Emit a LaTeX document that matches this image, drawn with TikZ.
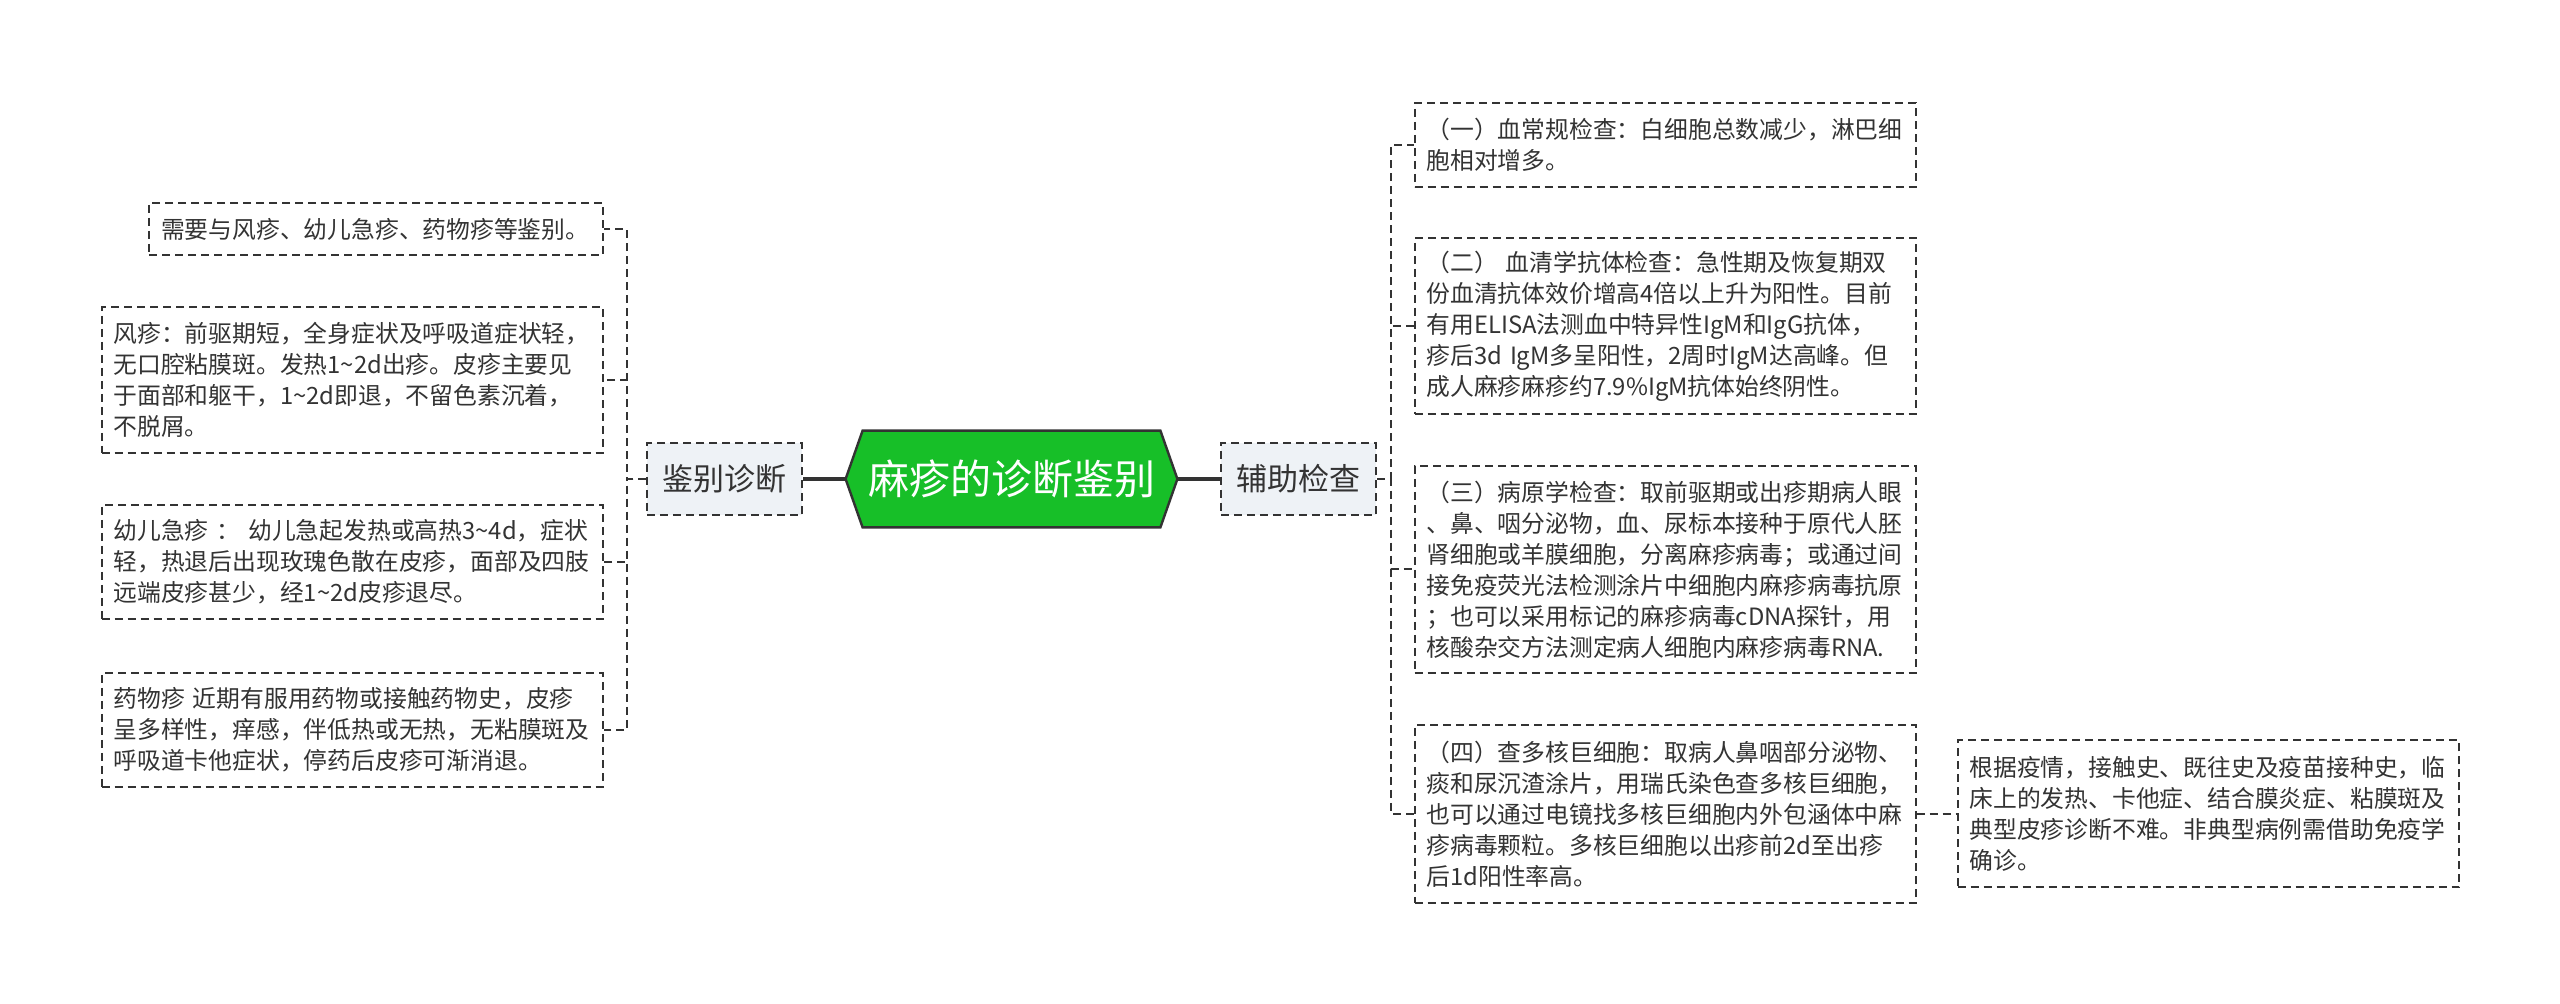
\documentclass[tikz,border=0pt]{standalone}
\usepackage{fontspec}
\setmainfont{Noto Sans CJK SC}
\usetikzlibrary{backgrounds}
\definecolor{ink}{HTML}{333333}
\definecolor{leaf}{HTML}{17BF28}
\definecolor{pale}{HTML}{EEF2F6}
\tikzset{
  box/.style={draw=ink, line width=1pt, dash pattern=on 4pt off 2.5pt, text=ink,
    inner xsep=6pt, inner ysep=0pt, align=left,
    font=\fontsize{11.9pt}{15.5pt}\selectfont},
  wide/.style={box, text width=238.5pt},
  sub/.style={draw=ink, fill=pale, line width=1pt, dash pattern=on 4pt off 2.5pt,
    text=ink, minimum width=77.5pt, minimum height=36pt, inner sep=0pt,
    font=\fontsize{15.5pt}{18pt}\selectfont},
  root/.style={text=white, minimum width=165.5pt, minimum height=48pt, inner sep=0pt,
    font=\fontsize{20.5pt}{24pt}\selectfont},
  hexa/.style={draw=ink, fill=leaf, line width=1.2pt, line join=miter},
  link/.style={draw=ink, line width=1pt, dash pattern=on 4pt off 2.5pt},
  trunk/.style={draw=ink, line width=1.6pt}
}
\begin{document}
\begin{tikzpicture}[x=0.5pt, y=-0.5pt]
\useasboundingbox (0,0) rectangle (2560,1004);

% centre and the two branches
\node[root] (root) at (1011.5,479) {麻疹的诊断鉴别};
\begin{scope}[on background layer]
\fill[white] (0,0) rectangle (2560,1004);
\path[hexa] (root.west) -- ([xshift=8.5pt]root.north west) -- ([xshift=-8.5pt]root.north east)
  -- (root.east) -- ([xshift=-8.5pt]root.south east) -- ([xshift=8.5pt]root.south west) -- cycle;
\end{scope}
\node[sub] (jb) at (724.5,479) {鉴别诊断};
\node[sub] (fz) at (1298.5,479) {辅助检查};
\draw[trunk] (root.west) -- (jb.east);
\draw[trunk] (root.east) -- (fz.west);

% left leaves
\node[box, text width=215pt, minimum height=26pt] (l1) at (376,229) {需要与风疹、幼儿急疹、药物疹等鉴别。};
\node[wide, minimum height=73pt] (l2) at (352,380) {风疹：前驱期短，全身症状及呼吸道症状轻，\\无口腔粘膜斑。发热1\textasciitilde2d出疹。皮疹主要见\\于面部和躯干，1\textasciitilde2d即退，不留色素沉着，\\不脱屑。};
\node[wide, minimum height=57pt] (l3) at (352,562) {幼儿急疹 ： 幼儿急起发热或高热3\textasciitilde4d，症状\\轻，热退后出现玫瑰色散在皮疹，面部及四肢\\远端皮疹甚少，经1\textasciitilde2d皮疹退尽。};
\node[wide, minimum height=57pt] (l4) at (352,730) {药物疹 近期有服用药物或接触药物史，皮疹\\呈多样性，痒感，伴低热或无热，无粘膜斑及\\呼吸道卡他症状，停药后皮疹可渐消退。};

% right leaves
\node[wide, minimum height=42pt] (r1) at (1665,145) {（一）血常规检查：白细胞总数减少，淋巴细\\胞相对增多。};
\node[wide, minimum height=88pt] (r2) at (1665,326) {（二） 血清学抗体检查：急性期及恢复期双\\份血清抗体效价增高4倍以上升为阳性。目前\\有用ELISA法测血中特异性IgM和IgG抗体，\\疹后3d IgM多呈阳性，2周时IgM达高峰。但\\成人麻疹麻疹约7.9\%IgM抗体始终阴性。};
\node[wide, minimum height=103.5pt] (r3) at (1665,569.5) {（三）病原学检查：取前驱期或出疹期病人眼\\、鼻、咽分泌物，血、尿标本接种于原代人胚\\肾细胞或羊膜细胞，分离麻疹病毒；或通过间\\接免疫荧光法检测涂片中细胞内麻疹病毒抗原\\；也可以采用标记的麻疹病毒cDNA探针，用\\核酸杂交方法测定病人细胞内麻疹病毒RNA.};
\node[wide, minimum height=89pt] (r4) at (1665,814) {（四）查多核巨细胞：取病人鼻咽部分泌物、\\痰和尿沉渣涂片，用瑞氏染色查多核巨细胞，\\也可以通过电镜找多核巨细胞内外包涵体中麻\\疹病毒颗粒。多核巨细胞以出疹前2d至出疹\\后1d阳性率高。};
\node[wide, minimum height=73.5pt] (r5) at (2208,814) {根据疫情，接触史、既往史及疫苗接种史，临\\床上的发热、卡他症、结合膜炎症、粘膜斑及\\典型皮疹诊断不难。非典型病例需借助免疫学\\确诊。};

% brackets
\coordinate (lb) at (627,479);
\coordinate (rb) at (1391,479);
\foreach \n in {l1,l2,l3,l4}
  \draw[link] (jb.west) -- (lb) |- (\n.east);
\foreach \n in {r1,r2,r3,r4}
  \draw[link] (fz.east) -- (rb) |- (\n.west);
\draw[link] (r4.east) -- (r5.west);
\end{tikzpicture}
\end{document}
